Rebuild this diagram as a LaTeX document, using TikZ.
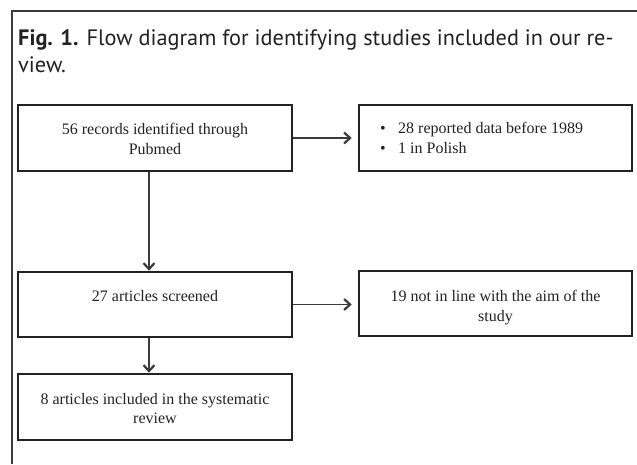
\documentclass[tikz,border=0pt]{standalone}
\usepackage{fontspec}
\setmainfont{Liberation Serif}
\newfontfamily\titlefont{PT Sans}
\usetikzlibrary{arrows.meta}
\definecolor{ink}{HTML}{222222}
\definecolor{lineink}{HTML}{3A3A3A}
\tikzset{
  box/.style={draw=ink, line width=2.6pt, minimum width=274pt, minimum height=66pt, inner sep=0pt, fill=white},
  txt/.style={anchor=base, inner sep=0pt, font=\fontsize{16}{20}\selectfont, text=ink},
  txtl/.style={anchor=base west, inner sep=0pt, font=\fontsize{16}{20}\selectfont, text=ink},
  arr/.style={draw=lineink, line width=1.3pt, -{Straight Barb[length=6pt,width=11pt,line width=2.2pt]}},
  ttl/.style={anchor=base west, inner sep=0pt, font=\titlefont\fontsize{22.3}{26}\selectfont, text=ink}
}
\begin{document}
\begin{tikzpicture}[x=1pt,y=-1pt]
\useasboundingbox[fill=white] (0,0) rectangle (637,464);
% frame
\draw[draw=lineink, line width=1.3pt] (12,464) -- (12,11) -- (637,11);
% title
\node[ttl] (title1) at (18,45) {\textbf{Fig. 1.} Flow diagram for identifying studies included in our re-};
\node[ttl] (title2) at (18,72) {view.};
% boxes
\node[box] (b1) at (155,138) {};
\node[box, minimum width=273pt] (r1) at (495.5,138) {};
\node[box, minimum height=65pt] (b2) at (155,304.5) {};
\node[box, minimum width=273pt, minimum height=65pt] (r2) at (495.5,303.5) {};
\node[box] (b3) at (155,407) {};
% texts
\node[txt] (b1a) at (155,134) {56 records identified through};
\node[txt] (b1b) at (155,154) {Pubmed};
\node[txt] (r1d1) at (383,133) {•};
\node[txtl] (r1a) at (398,133) {28 reported data before 1989};
\node[txt] (r1d2) at (383,153) {•};
\node[txtl] (r1b) at (398,153) {1 in Polish};
\node[txt] (b2a) at (155,301) {27 articles screened};
\node[txt] (r2a) at (495.5,301) {19 not in line with the aim of the};
\node[txt] (r2b) at (495.5,321) {study};
\node[txt] (b3a) at (155,404) {8 articles included in the systematic};
\node[txt] (b3b) at (155,423) {review};
% connectors
\draw[arr, shorten >=6pt] (b1.east) -- (r1.west);
\draw[arr, shorten >=6pt] (b2.east) -- (b2.east -| r2.west);
\draw[arr] ([xshift=-6pt]b1.south) -- ([xshift=-6pt]b2.north);
\draw[arr] ([xshift=-6pt]b2.south) -- ([xshift=-6pt]b3.north);
\end{tikzpicture}
\end{document}
